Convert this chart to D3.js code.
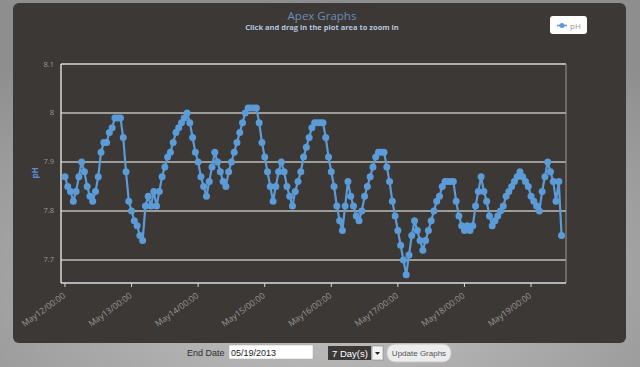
<html>
<head>
  <title>Apex Graphs</title>
  <script src='https://d3js.org/d3.v7.min.js'></script>
  <style>
    body { margin: 0; background: #a9a9a9; }
    svg { display: block; }
  </style>
</head>
<body>
  <script>

// pH readings, one per hour starting May 12 00:00
var phValues = [
  7.87, 7.85, 7.84, 7.82, 7.84, 7.87, 7.90, 7.88, 7.85, 7.83,
  7.82, 7.84, 7.87, 7.92, 7.94, 7.94, 7.96, 7.97, 7.99, 7.99,
  7.99, 7.95, 7.88, 7.82, 7.80, 7.78, 7.77, 7.75, 7.74, 7.81,
  7.83, 7.81, 7.84, 7.81, 7.84, 7.87, 7.89, 7.91, 7.92, 7.94,
  7.96, 7.97, 7.98, 7.99, 8.00, 7.98, 7.95, 7.92, 7.90, 7.87,
  7.85, 7.83, 7.86, 7.89, 7.92, 7.90, 7.88, 7.86, 7.85, 7.88,
  7.90, 7.92, 7.94, 7.96, 7.98, 8.00, 8.01, 8.01, 8.01, 8.01,
  7.98, 7.94, 7.91, 7.88, 7.85, 7.82, 7.85, 7.88, 7.90, 7.88,
  7.85, 7.83, 7.81, 7.84, 7.86, 7.88, 7.91, 7.93, 7.95, 7.97,
  7.98, 7.98, 7.98, 7.98, 7.95, 7.91, 7.88, 7.85, 7.81, 7.78,
  7.76, 7.81, 7.86, 7.83, 7.81, 7.79, 7.78, 7.80, 7.83, 7.85,
  7.87, 7.89, 7.91, 7.92, 7.92, 7.92, 7.89, 7.86, 7.82, 7.79,
  7.76, 7.73, 7.70, 7.67, 7.71, 7.75, 7.78, 7.76, 7.74, 7.72,
  7.74, 7.76, 7.78, 7.80, 7.82, 7.83, 7.85, 7.86, 7.86, 7.86,
  7.86, 7.82, 7.79, 7.77, 7.76, 7.77, 7.76, 7.77, 7.81, 7.84,
  7.87, 7.84, 7.82, 7.79, 7.77, 7.78, 7.79, 7.80, 7.81, 7.83,
  7.84, 7.85, 7.86, 7.87, 7.88, 7.87, 7.86, 7.85, 7.83, 7.82,
  7.81, 7.80, 7.84, 7.87, 7.90, 7.88, 7.86, 7.82, 7.86, 7.75
];
var startTime = new Date(2013, 4, 12, 0, 0);
var yTicks = [7.7, 7.8, 7.9, 8.0, 8.1];
var dayTicks = [12, 13, 14, 15, 16, 17, 18, 19];

var width = 640,
    height = 367;

var svg = d3.select('body')
  .append('svg')
  .attr('width', width)
  .attr('height', height);

var defs = svg.append('defs');
var bg = defs.append('radialGradient').attr('id', 'bg')
  .attr('cx', '50%').attr('cy', '75%').attr('r', '75%');
bg.append('stop').attr('offset', '0%').attr('stop-color', '#c6c6c6');
bg.append('stop').attr('offset', '100%').attr('stop-color', '#8e8e8e');

svg.append('rect').attr('width', width).attr('height', height).attr('fill', 'url(#bg)');

// dark panel
svg.append('rect')
  .attr('x', 13).attr('y', 3).attr('width', 613).attr('height', 340)
  .attr('rx', 6).attr('fill', '#3b3836');

var data = phValues.map(function(v, i){
  return { t: d3.timeHour.offset(startTime, i), v: v };
});

var plotL = 61, plotR = 566, plotT = 64, plotB = 283;

var x = d3.scaleTime()
  .domain([d3.timeMinute.offset(startTime, -86), d3.timeMinute.offset(startTime, 180 * 60 + 36)])
  .range([plotL, plotR]);

var y = d3.scaleLinear()
  .domain([7.653, 8.1])
  .range([plotB, plotT]);

// titles
svg.append('text').attr('x', 322).attr('y', 20)
  .attr('text-anchor', 'middle')
  .attr('font-family', 'Open Sans, sans-serif').attr('font-size', 11.5)
  .attr('fill', '#6e8db8').text('Apex Graphs');
svg.append('text').attr('x', 322).attr('y', 30)
  .attr('text-anchor', 'middle')
  .attr('font-family', 'Open Sans, sans-serif').attr('font-size', 7.5).attr('font-weight', 'bold')
  .attr('fill', '#b4c6df').text('Click and drag in the plot area to zoom in');

// legend
var lg = svg.append('g');
lg.append('rect').attr('x', 550).attr('y', 16).attr('width', 37).attr('height', 18)
  .attr('rx', 3).attr('fill', '#fdfdfd');
lg.append('line').attr('x1', 557).attr('x2', 567).attr('y1', 25.5).attr('y2', 25.5)
  .attr('stroke', '#5b9bd8').attr('stroke-width', 1.5);
lg.append('circle').attr('cx', 562).attr('cy', 25.5).attr('r', 2.5).attr('fill', '#5b9bd8');
lg.append('text').attr('x', 570).attr('y', 28.5)
  .attr('font-family', 'Open Sans, sans-serif').attr('font-size', 8)
  .attr('fill', '#9a9a9a').text('pH');

// grid
var g = svg.append('g');
g.selectAll('line.grid')
  .data(yTicks)
  .enter()
  .append('line')
  .attr('class', 'grid')
  .attr('x1', plotL).attr('x2', plotR)
  .attr('y1', function(d){ return y(d); })
  .attr('y2', function(d){ return y(d); })
  .attr('stroke', function(d){ return d === 8.1 ? '#d8d8d8' : '#bdbdbd'; })
  .attr('stroke-width', 1.5);

// frame
g.append('line').attr('x1', plotR).attr('x2', plotR).attr('y1', plotT).attr('y2', plotB)
  .attr('stroke', '#999').attr('stroke-width', 1);
g.append('line').attr('x1', plotL).attr('x2', plotL).attr('y1', plotT).attr('y2', plotB)
  .attr('stroke', '#d8d8d8').attr('stroke-width', 1.5);
g.append('line').attr('x1', plotL).attr('x2', plotR).attr('y1', plotB).attr('y2', plotB)
  .attr('stroke', '#d8dde4').attr('stroke-width', 1.5);

// y tick labels
g.selectAll('text.ytick')
  .data(yTicks)
  .enter()
  .append('text')
  .attr('class', 'ytick')
  .attr('x', 54)
  .attr('y', function(d){ return y(d) + 2.5; })
  .attr('text-anchor', 'end')
  .attr('font-family', 'Open Sans, sans-serif').attr('font-size', 7.5)
  .attr('fill', '#9a9a9a')
  .text(function(d){ return d === 8 ? '8' : d3.format('.1f')(d); });

svg.append('text')
  .attr('transform', 'translate(38,173) rotate(-90)')
  .attr('text-anchor', 'middle')
  .attr('font-family', 'Open Sans, sans-serif').attr('font-size', 8).attr('font-weight', 'bold')
  .attr('fill', '#5b8fcf').text('pH');

// x ticks
var days = dayTicks.map(function(d){ return new Date(2013, 4, d, 0, 0); });
g.selectAll('line.xtick')
  .data(days)
  .enter()
  .append('line')
  .attr('x1', function(d){ return x(d); })
  .attr('x2', function(d){ return x(d); })
  .attr('y1', plotB).attr('y2', plotB + 4)
  .attr('stroke', '#d8d8d8').attr('stroke-width', 1);

g.selectAll('text.xtick')
  .data(days)
  .enter()
  .append('text')
  .attr('class', 'xtick')
  .attr('transform', function(d){ return 'translate(' + (x(d) + 1) + ',' + (plotB + 14) + ') rotate(-36)'; })
  .attr('text-anchor', 'end')
  .attr('font-family', 'Open Sans, sans-serif').attr('font-size', 8.5)
  .attr('fill', '#9a9a9a')
  .text(function(d){ return 'May' + d.getDate() + '/00:00'; });

// series
var line = d3.line()
  .x(function(d){ return x(d.t); })
  .y(function(d){ return y(d.v); });

g.append('path')
  .datum(data)
  .attr('fill', 'none')
  .attr('stroke', '#5b9bd8')
  .attr('stroke-width', 2.2)
  .attr('d', line);

g.selectAll('circle.pt')
  .data(data)
  .enter()
  .append('circle')
  .attr('class', 'pt')
  .attr('cx', function(d){ return x(d.t); })
  .attr('cy', function(d){ return y(d.v); })
  .attr('r', 3.5)
  .attr('fill', '#5b9bd8');

// form controls below panel
var f = svg.append('g').attr('font-family', 'Liberation Sans, Arial, sans-serif');
f.append('text').attr('x', 187).attr('y', 356).attr('font-size', 9)
  .attr('fill', '#2e2e2e').text('End Date');
f.append('rect').attr('x', 229).attr('y', 345).attr('width', 84).attr('height', 14)
  .attr('fill', '#fff').attr('stroke', '#aaa').attr('stroke-width', 0.5);
f.append('text').attr('x', 231).attr('y', 356).attr('font-size', 9)
  .attr('fill', '#222').text('05/19/2013');
f.append('rect').attr('x', 328).attr('y', 346).attr('width', 43).attr('height', 14)
  .attr('fill', '#3b3836');
f.append('text').attr('x', 332).attr('y', 357).attr('font-size', 9.5)
  .attr('fill', '#fff').text('7 Day(s)');
f.append('rect').attr('x', 372).attr('y', 346).attr('width', 11).attr('height', 14)
  .attr('fill', '#f2f2f2').attr('stroke', '#777').attr('stroke-width', 0.5);
f.append('path').attr('d', 'M375,352 L380,352 L377.5,355 Z').attr('fill', '#222');
f.append('rect').attr('x', 387).attr('y', 344).attr('width', 64).attr('height', 18)
  .attr('rx', 8).attr('fill', '#ececec').attr('stroke', '#c8c8c8');
f.append('text').attr('x', 419).attr('y', 356).attr('text-anchor', 'middle').attr('font-size', 8)
  .attr('fill', '#555').text('Update Graphs');

  </script>
</body>
</html>
